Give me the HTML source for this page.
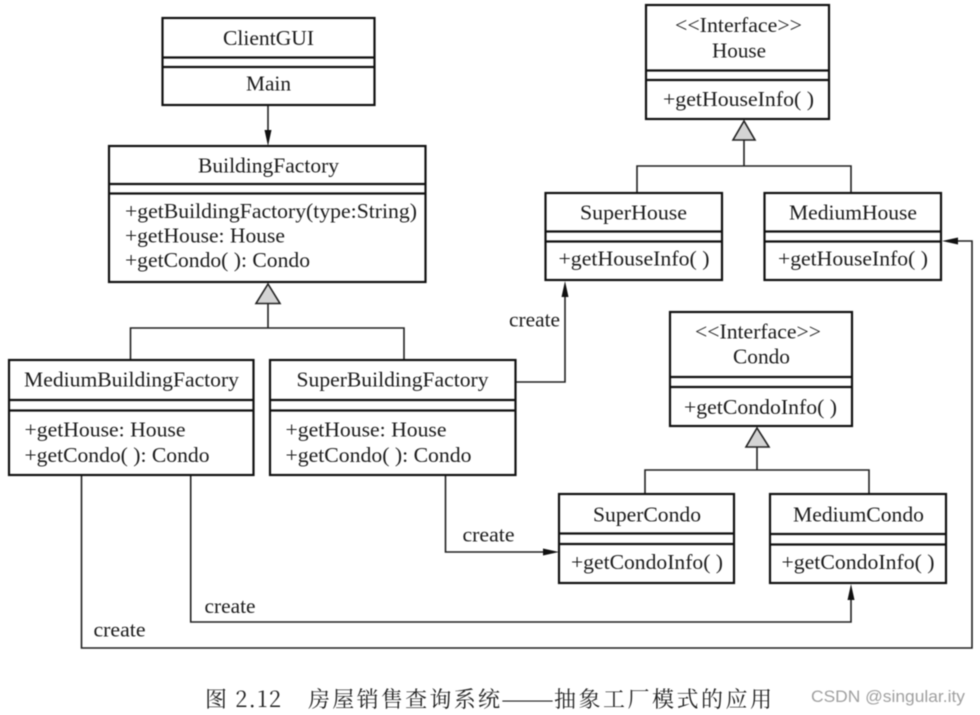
<!DOCTYPE html>
<html>
<head>
<meta charset="utf-8">
<style>
html,body{margin:0;padding:0;background:#fff;width:980px;height:715px;overflow:hidden}
svg{display:block;filter:blur(.4px)}
text{font-family:"Liberation Serif","Noto Serif CJK SC",serif;font-size:21px;fill:#1c1c1c}
.b{fill:#fff;stroke:#111;stroke-width:2.2}
.l{stroke:#111;stroke-width:2.2;fill:none}
.c{stroke:#222;stroke-width:1.6;fill:none}
.t{fill:#d4d4d4;stroke:#222;stroke-width:1.6}
.a{fill:#111;stroke:none}
.cap{font-family:"Noto Serif CJK SC","Liberation Serif",serif;font-size:22px;fill:#222}
.w{font-family:"Liberation Sans",sans-serif;font-size:17px;fill:#a0a0a0}
</style>
</head>
<body>
<svg width="980" height="715" viewBox="0 0 980 715" xmlns="http://www.w3.org/2000/svg">
<!-- connectors -->
<path class="c" d="M268 105V140"/>
<path class="a" d="M268 146L264.500 130H271.500Z"/>
<path class="c" d="M268 304V328M130.500 360V328H404V360"/>
<path class="c" d="M744 140V166M637 193V166H851V193"/>
<path class="c" d="M757 447V470M645 494V470H869V494"/>
<path class="c" d="M516 382H565V290"/>
<path class="a" d="M565 281L561.500 297H568.500Z"/>
<path class="c" d="M445.500 475V552H550"/>
<path class="a" d="M559 552L543 548.500V555.500Z"/>
<path class="c" d="M190.700 475V622H851V595"/>
<path class="a" d="M851 584L847.500 600H854.500Z"/>
<path class="c" d="M81.500 475V648H972V241H952"/>
<path class="a" d="M942 241L958 237.500V244.500Z"/>
<!-- triangles -->
<path class="t" d="M268 284L256 303.500H280Z"/>
<path class="t" d="M744 121L733 140H755Z"/>
<path class="t" d="M757 428L746 447H769Z"/>
<!-- ClientGUI -->
<rect class="b" x="162.500" y="18" width="212" height="87"/>
<path class="l" d="M162.500 57.500H374.500M162.500 67H374.500"/>
<text x="223" y="45" textLength="91" lengthAdjust="spacingAndGlyphs">ClientGUI</text>
<text x="246" y="90.500" textLength="45" lengthAdjust="spacingAndGlyphs">Main</text>
<!-- BuildingFactory -->
<rect class="b" x="109" y="146" width="316.500" height="136"/>
<path class="l" d="M109 184H425.500M109 193.500H425.500"/>
<text x="198" y="172.500" textLength="141" lengthAdjust="spacingAndGlyphs">BuildingFactory</text>
<text x="125" y="218" textLength="292" lengthAdjust="spacingAndGlyphs">+getBuildingFactory(type:String)</text>
<text x="125" y="242.500" textLength="160" lengthAdjust="spacingAndGlyphs">+getHouse: House</text>
<text x="125" y="267" textLength="185" lengthAdjust="spacingAndGlyphs">+getCondo( ): Condo</text>
<!-- MediumBuildingFactory -->
<rect class="b" x="9" y="360" width="244.500" height="115"/>
<path class="l" d="M9 400H253.500M9 410.500H253.500"/>
<text x="24" y="386.500" textLength="215" lengthAdjust="spacingAndGlyphs">MediumBuildingFactory</text>
<text x="24.500" y="436.500" textLength="161" lengthAdjust="spacingAndGlyphs">+getHouse: House</text>
<text x="24.500" y="462" textLength="185" lengthAdjust="spacingAndGlyphs">+getCondo( ): Condo</text>
<!-- SuperBuildingFactory -->
<rect class="b" x="270" y="360" width="245.500" height="115"/>
<path class="l" d="M270 400H515.500M270 410.500H515.500"/>
<text x="296.500" y="386.500" textLength="192" lengthAdjust="spacingAndGlyphs">SuperBuildingFactory</text>
<text x="285.500" y="436.500" textLength="161" lengthAdjust="spacingAndGlyphs">+getHouse: House</text>
<text x="285.500" y="462" textLength="186" lengthAdjust="spacingAndGlyphs">+getCondo( ): Condo</text>
<!-- House -->
<rect class="b" x="646" y="5" width="183" height="114"/>
<path class="l" d="M646 70.500H829M646 80H829"/>
<text x="675" y="32" textLength="127" lengthAdjust="spacingAndGlyphs">&lt;&lt;Interface&gt;&gt;</text>
<text x="712" y="57.500" textLength="54" lengthAdjust="spacingAndGlyphs">House</text>
<text x="663" y="106" textLength="151" lengthAdjust="spacingAndGlyphs">+getHouseInfo( )</text>
<!-- SuperHouse -->
<rect class="b" x="545.500" y="193" width="176.500" height="87"/>
<path class="l" d="M545.500 231.500H722M545.500 241.500H722"/>
<text x="580" y="219.500" textLength="107" lengthAdjust="spacingAndGlyphs">SuperHouse</text>
<text x="558.500" y="265.500" textLength="151" lengthAdjust="spacingAndGlyphs">+getHouseInfo( )</text>
<!-- MediumHouse -->
<rect class="b" x="764.500" y="193" width="176.500" height="87"/>
<path class="l" d="M764.500 231.500H941M764.500 241.500H941"/>
<text x="789" y="219.500" textLength="128" lengthAdjust="spacingAndGlyphs">MediumHouse</text>
<text x="778" y="265.500" textLength="150" lengthAdjust="spacingAndGlyphs">+getHouseInfo( )</text>
<!-- Condo -->
<rect class="b" x="670" y="312" width="182" height="114"/>
<path class="l" d="M670 377H852M670 387H852"/>
<text x="695" y="338.500" textLength="126" lengthAdjust="spacingAndGlyphs">&lt;&lt;Interface&gt;&gt;</text>
<text x="733" y="363.500" textLength="57" lengthAdjust="spacingAndGlyphs">Condo</text>
<text x="684" y="414" textLength="153" lengthAdjust="spacingAndGlyphs">+getCondoInfo( )</text>
<!-- SuperCondo -->
<rect class="b" x="559" y="494" width="175" height="89"/>
<path class="l" d="M559 533.500H734M559 544H734"/>
<text x="593" y="521.500" textLength="108" lengthAdjust="spacingAndGlyphs">SuperCondo</text>
<text x="571" y="569" textLength="152" lengthAdjust="spacingAndGlyphs">+getCondoInfo( )</text>
<!-- MediumCondo -->
<rect class="b" x="770" y="494" width="176" height="89"/>
<path class="l" d="M770 534H946M770 544.500H946"/>
<text x="793" y="521.500" textLength="131" lengthAdjust="spacingAndGlyphs">MediumCondo</text>
<text x="781.500" y="569" textLength="153" lengthAdjust="spacingAndGlyphs">+getCondoInfo( )</text>
<!-- create labels -->
<text x="509" y="326.500" textLength="51" lengthAdjust="spacingAndGlyphs">create</text>
<text x="462.500" y="541.500" textLength="52" lengthAdjust="spacingAndGlyphs">create</text>
<text x="204.500" y="613" textLength="51" lengthAdjust="spacingAndGlyphs">create</text>
<text x="93.500" y="636.500" textLength="52" lengthAdjust="spacingAndGlyphs">create</text>
<!-- caption -->
<text class="cap" x="205" y="707" textLength="76" lengthAdjust="spacing">图 2.12</text>
<text class="cap" x="308" y="707" textLength="192" lengthAdjust="spacing">房屋销售查询系统</text>
<text class="cap" x="501" y="707" textLength="53" lengthAdjust="spacingAndGlyphs">——</text>
<text class="cap" x="554" y="707" textLength="218" lengthAdjust="spacing">抽象工厂模式的应用</text>
<!-- watermark -->
<text class="w" x="811" y="702" textLength="154" lengthAdjust="spacingAndGlyphs">CSDN @singular.ity</text>
</svg>
</body>
</html>
